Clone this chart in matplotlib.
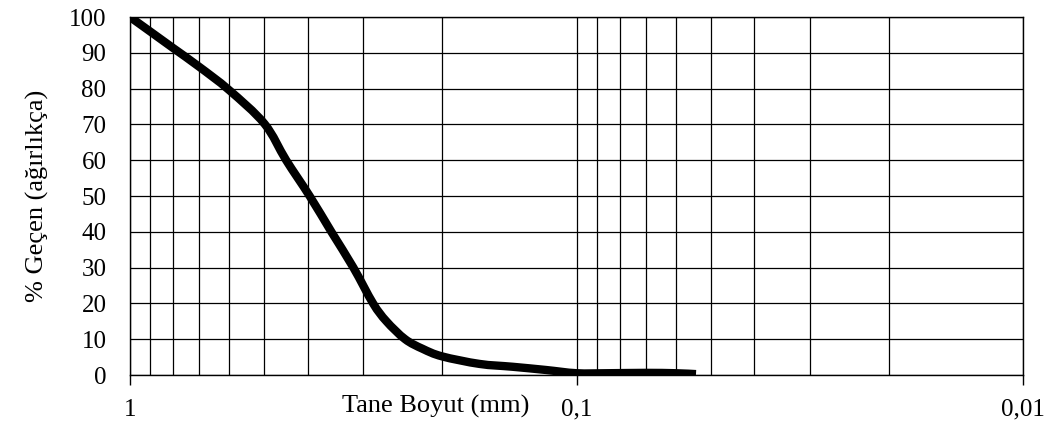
import numpy as np
import matplotlib.pyplot as plt
from matplotlib.path import Path
from matplotlib.patches import PathPatch
from matplotlib.ticker import FixedLocator, NullFormatter

plt.rcParams['font.family'] = ['Liberation Serif', 'DejaVu Serif']

# Tane boyutu (mm) ve % geçen
tane_boyut = [1.0, 0.9, 0.8, 0.7, 0.6, 0.5, 0.447, 0.396, 0.354, 0.316,
              0.2855, 0.2665, 0.242, 0.221, 0.2, 0.165, 0.139, 0.117, 0.1,
              0.085, 0.07, 0.06, 0.054]
gecen = [100, 95.9, 91.3, 86.1, 79.6, 70.2, 60, 50, 40, 30,
         20, 15, 10, 7.3, 5.2, 3.1, 2.3, 1.4, 0.5,
         0.5, 0.6, 0.5, 0.25]

x_major = [1, 0.1, 0.01]
x_major_labels = ['1', '0,1', '0,01']
x_minor = [0.9, 0.8, 0.7, 0.6, 0.5, 0.4, 0.3, 0.2,
           0.09, 0.08, 0.07, 0.06, 0.05, 0.04, 0.03, 0.02]
y_ticks = list(range(0, 101, 10))


def smooth_path(xs, ys):
    # Excel benzeri yumuşatılmış çizgi (Catmull-Rom -> Bezier), log x uzayında
    lx = np.log10(xs)
    y = np.asarray(ys, float)
    pts = np.column_stack([lx, y])
    verts = [pts[0]]
    codes = [Path.MOVETO]
    n = len(pts)
    for i in range(n - 1):
        p0 = pts[i - 1] if i > 0 else pts[i]
        p1, p2 = pts[i], pts[i + 1]
        p3 = pts[i + 2] if i + 2 < n else pts[i + 1]
        c1 = p1 + (p2 - p0) / 6
        c2 = p2 - (p3 - p1) / 6
        verts += [c1, c2, p2]
        codes += [Path.CURVE4] * 3
    verts = np.array(verts)
    verts[:, 0] = 10 ** verts[:, 0]
    return Path(verts, codes)


fig = plt.figure(figsize=(10.55, 4.26), dpi=100)
ax = fig.add_axes([130 / 1055, 1 - 375 / 426, 893 / 1055, 358 / 426])

ax.set_xscale('log')
ax.set_xlim(1, 0.01)
ax.set_ylim(0, 100)

patch = PathPatch(smooth_path(tane_boyut, gecen), facecolor='none', edgecolor='black',
                  lw=6, capstyle='butt', joinstyle='round', zorder=3)
ax.add_patch(patch)

ax.xaxis.set_major_locator(FixedLocator(x_major))
ax.set_xticklabels(x_major_labels)
ax.xaxis.set_minor_locator(FixedLocator(x_minor))
ax.xaxis.set_minor_formatter(NullFormatter())
ax.set_yticks(y_ticks)

ax.grid(which='both', axis='x', color='black', lw=0.9)
ax.grid(which='major', axis='y', color='black', lw=0.9)

ax.tick_params(axis='x', which='major', length=7, width=1, labelsize=18, pad=10)
ax.tick_params(axis='x', which='minor', length=0)
ax.tick_params(axis='y', length=0, labelsize=18, pad=17)

for s in ax.spines.values():
    s.set_color('black')
    s.set_linewidth(1)

ax.set_ylabel('% Geçen (ağırlıkça)', fontsize=19, labelpad=14)
ax.text((436 - 130) / 893, -31 / 358, 'Tane Boyut (mm)', transform=ax.transAxes,
        ha='center', va='center', fontsize=19)

fig.savefig('out.png', dpi=100)
